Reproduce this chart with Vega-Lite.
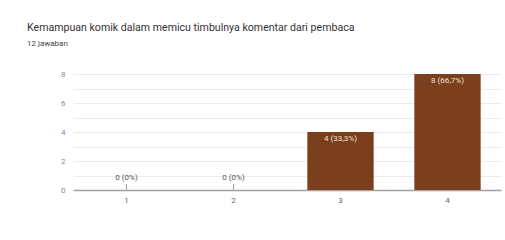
{
  "$schema": "https://vega.github.io/schema/vega-lite/v6.json",
  "autosize": "none",
  "width": 428,
  "height": 116,
  "padding": {"left": 73, "top": 74, "right": 4, "bottom": 50},
  "background": "white",
  "config": {"font": "Roboto", "view": {"stroke": null}},
  "title": {
    "text": "Kemampuan komik dalam memicu timbulnya komentar dari pembaca",
    "subtitle": "12 jawaban",
    "anchor": "start",
    "frame": "group",
    "dx": -46,
    "offset": 22,
    "fontSize": 10.6,
    "fontWeight": "normal",
    "color": "#333333",
    "subtitleFontSize": 8,
    "subtitleColor": "#444444",
    "subtitlePadding": 6
  },
  "data": {
    "values": [
      {"option": "1", "count": 0, "label": "0 (0%)"},
      {"option": "2", "count": 0, "label": "0 (0%)"},
      {"option": "3", "count": 4, "label": "4 (33,3%)"},
      {"option": "4", "count": 8, "label": "8 (66,7%)"}
    ]
  },
  "encoding": {
    "x": {
      "field": "option",
      "type": "nominal",
      "sort": null,
      "scale": {"paddingInner": 0.38, "paddingOuter": 0.19},
      "axis": {
        "title": null,
        "labelAngle": 0,
        "labelFontSize": 8,
        "labelColor": "#666666",
        "labelPadding": 6,
        "ticks": false,
        "domainColor": "#a0a0a0",
        "domainWidth": 1.5
      }
    },
    "y": {
      "field": "count",
      "type": "quantitative",
      "scale": {"domain": [0, 8], "nice": false},
      "axis": {
        "title": null,
        "values": [0, 1, 2, 3, 4, 5, 6, 7, 8],
        "labelExpr": "datum.value % 2 == 0 ? datum.label : ''",
        "labelFontSize": 8,
        "labelColor": "#888888",
        "labelPadding": 8,
        "ticks": false,
        "domain": false,
        "gridColor": "#ececec",
        "gridWidth": 1
      }
    }
  },
  "layer": [
    {"mark": {"type": "bar", "color": "#7b3f1e"}},
    {
      "transform": [{"filter": "datum.count == 0"}],
      "mark": {"type": "rule", "color": "#a0a0a0", "strokeWidth": 1},
      "encoding": {"y2": {"datum": 0.42}}
    },
    {
      "transform": [{"filter": "datum.count == 0"}],
      "mark": {"type": "text", "fontSize": 8, "color": "#555555", "dy": -12, "baseline": "middle"},
      "encoding": {"text": {"field": "label"}}
    },
    {
      "transform": [{"filter": "datum.count > 0"}],
      "mark": {"type": "text", "fontSize": 8, "color": "#f0e0d6", "dy": 3, "baseline": "top"},
      "encoding": {"text": {"field": "label"}}
    }
  ]
}
